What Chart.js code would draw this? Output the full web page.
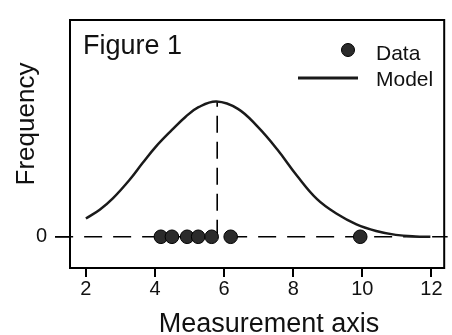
<!DOCTYPE html>
<html>
<head>
<meta charset="utf-8">
<script src="https://cdn.jsdelivr.net/npm/chart.js@4.4.0/dist/chart.umd.min.js"></script>
<style>
  html, body { margin: 0; padding: 0; background: #fff; }
  #wrap { width: 452px; height: 335px; }
</style>
</head>
<body>
<div id="wrap"><canvas id="chart" width="452" height="335"></canvas></div>
<script>
// Model curve
const modelX = [2.00, 2.40, 2.78, 3.26, 3.64, 4.02, 4.49, 4.88, 5.26, 5.78, 6.40, 6.97, 7.54, 8.11, 8.69, 9.26, 9.83, 10.40, 10.97, 11.54, 11.97];
const modelY = [0.135, 0.200, 0.284, 0.420, 0.545, 0.665, 0.790, 0.886, 0.958, 1.000, 0.946, 0.814, 0.645, 0.451, 0.278, 0.170, 0.092, 0.043, 0.014, 0.002, 0.000];

// Observed measurements (all sit on the zero line)
const dataX = [4.17, 4.49, 4.93, 5.25, 5.64, 6.19, 9.94];

const meanX = 5.8;
const peakY = 1.0;

const xTicks = [2, 4, 6, 8, 10, 12];
const yTicks = [0];

const X_MIN = 1.54, X_MAX = 12.37;
const Y_MIN = -0.231, Y_MAX = 1.603;

const FONT = "'Liberation Sans', Arial, Helvetica, sans-serif";
const INK = '#111';

// box, caption, legend and axis titles
const frame = {
    id: 'frame',
    afterDatasetsDraw(chart) {
        const { ctx, chartArea: a } = chart;
        ctx.save();
        ctx.strokeStyle = '#000';
        ctx.lineWidth = 2;
        ctx.strokeRect(a.left, a.top, a.right - a.left, a.bottom - a.top);

        ctx.fillStyle = INK;
        ctx.textAlign = 'left';
        ctx.textBaseline = 'alphabetic';
        ctx.font = `27px ${FONT}`;
        ctx.fillText('Figure 1', 83, 54);

        // legend
        ctx.beginPath();
        ctx.arc(348, 50, 6.5, 0, Math.PI * 2);
        ctx.fillStyle = '#2b2b2b';
        ctx.fill();
        ctx.lineWidth = 1;
        ctx.strokeStyle = '#000';
        ctx.stroke();

        ctx.beginPath();
        ctx.moveTo(298, 78);
        ctx.lineTo(358, 78);
        ctx.lineWidth = 3;
        ctx.strokeStyle = '#1a1a1a';
        ctx.stroke();

        ctx.fillStyle = INK;
        ctx.font = `21px ${FONT}`;
        ctx.fillText('Data', 376, 60);
        ctx.fillText('Model', 376, 86);

        // axis titles
        ctx.font = `27px ${FONT}`;
        ctx.textAlign = 'center';
        ctx.fillText('Measurement axis', 269, 332);

        ctx.translate(34, 124);
        ctx.rotate(-Math.PI / 2);
        ctx.font = `26px ${FONT}`;
        ctx.fillText('Frequency', 0, 0);
        ctx.restore();
    },
};

new Chart(document.getElementById('chart'), {
    type: 'scatter',
    data: {
        datasets: [
            {
                label: 'Data',
                data: dataX.map(x => ({ x, y: 0 })),
                pointRadius: 6.8,
                pointBackgroundColor: '#2b2b2b',
                pointBorderColor: '#000',
                pointBorderWidth: 1,
                showLine: false,
                order: 0,
            },
            {
                label: 'Model',
                data: modelX.map((x, i) => ({ x, y: modelY[i] })),
                showLine: true,
                borderColor: '#1a1a1a',
                borderWidth: 2.5,
                pointRadius: 0,
                tension: 0.4,
                order: 1,
            },
            {
                label: 'zero',
                data: [{ x: 1.11, y: 0 }, { x: X_MAX + 0.1, y: 0 }],
                showLine: true,
                borderColor: '#000',
                borderWidth: 1.6,
                borderDash: [18, 11],
                pointRadius: 0,
                clip: false,
                order: 2,
            },
            {
                label: 'mean',
                data: [{ x: meanX, y: 0 }, { x: meanX, y: peakY }],
                showLine: true,
                borderColor: '#000',
                borderWidth: 1.6,
                borderDash: [17, 9],
                pointRadius: 0,
                order: 2,
            },
        ],
    },
    options: {
        responsive: false,
        animation: false,
        layout: { padding: { top: 14, right: 3, left: 0, bottom: 0 } },
        plugins: {
            legend: { display: false },
            tooltip: { enabled: false },
        },
        scales: {
            x: {
                type: 'linear',
                min: X_MIN,
                max: X_MAX,
                afterBuildTicks(scale) { scale.ticks = xTicks.map(v => ({ value: v })); },
                afterFit(scale) { scale.height = 67; },
                border: { display: false },
                grid: { drawOnChartArea: false, drawTicks: true, tickLength: 9, color: '#000', lineWidth: 2 },
                ticks: { color: INK, padding: 0, font: { family: FONT, size: 20 } },
            },
            y: {
                type: 'linear',
                min: Y_MIN,
                max: Y_MAX,
                afterBuildTicks(scale) { scale.ticks = yTicks.map(v => ({ value: v })); },
                afterFit(scale) { scale.width = 70; },
                border: { display: false },
                grid: { drawOnChartArea: false, drawTicks: true, tickLength: 15, color: '#000', lineWidth: 1.6 },
                ticks: { color: INK, padding: 8, font: { family: FONT, size: 20 } },
            },
        },
    },
    plugins: [frame],
});
</script>
</body>
</html>
